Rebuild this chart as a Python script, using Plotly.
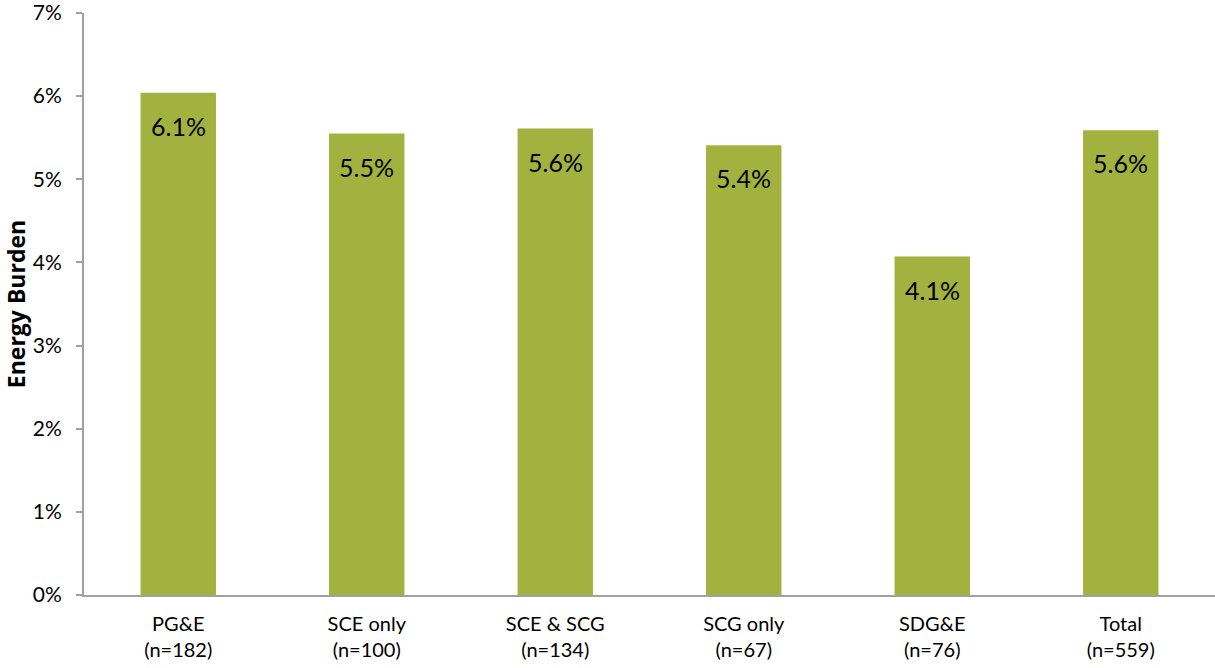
import plotly.graph_objects as go

categories = ["PG&E<br>(n=182)", "SCE only<br>(n=100)", "SCE & SCG<br>(n=134)",
              "SCG only<br>(n=67)", "SDG&E<br>(n=76)", "Total<br>(n=559)"]
values = [6.04, 5.55, 5.61, 5.41, 4.07, 5.59]
labels = ["6.1%", "5.5%", "5.6%", "5.4%", "4.1%", "5.6%"]
y_ticks = [0, 1, 2, 3, 4, 5, 6, 7]
y_ticktext = ["0%", "1%", "2%", "3%", "4%", "5%", "6%", "7%"]

FONT = "Lato"

fig = go.Figure()
fig.add_trace(go.Bar(
    x=categories, y=values, width=0.4,
    marker=dict(color="#A2B23E", line=dict(width=0)),
    hoverinfo="skip",
))
for c, v, t in zip(categories, values, labels):
    fig.add_annotation(x=c, y=v, text=t, showarrow=False, yanchor="middle",
                       yshift=-33, font=dict(family=FONT, size=25, color="black"))

fig.update_layout(
    width=1215, height=668,
    margin=dict(l=84, r=0, t=13, b=73),
    paper_bgcolor="white", plot_bgcolor="white",
    showlegend=False,
    font=dict(family=FONT, size=20, color="black"),
    bargap=0.6,
)
fig.update_xaxes(
    automargin=False,
    showline=True, linecolor="#A0A0A0", linewidth=2,
    ticks="", tickfont=dict(family=FONT, size=20, color="black"),
    ticklabelstandoff=10,
    showgrid=False, zeroline=False,
)
fig.update_yaxes(
    automargin=False,
    range=[0, 7], tickvals=y_ticks, ticktext=y_ticktext,
    showline=True, linecolor="#A0A0A0", linewidth=2,
    ticks="outside", ticklen=6, tickcolor="#A0A0A0", tickwidth=2,
    tickfont=dict(family=FONT, size=21, color="black"),
    ticklabelstandoff=10, ticklabeloverflow="allow",
    showgrid=False, zeroline=False,
    title=dict(text="<b>Energy Burden</b>", font=dict(family="Open Sans", size=23, color="black"), standoff=36),
)

# remove the page's default body margin so the figure fills the window exactly
fig.write_html("out.html", config={"displayModeBar": False},
               post_script="document.body.style.margin='0';")
